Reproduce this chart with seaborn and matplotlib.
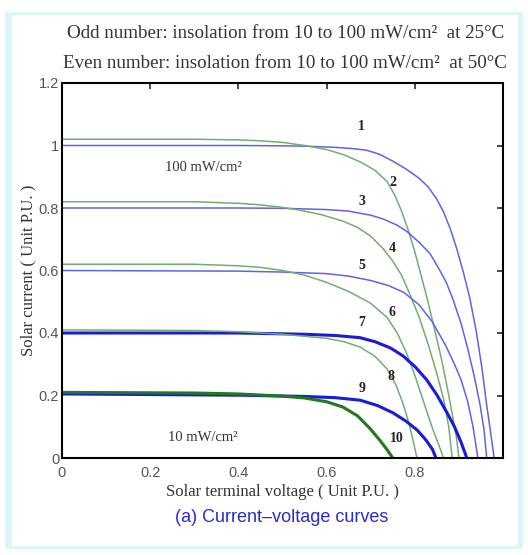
import numpy as np
import pandas as pd
import seaborn as sns
import matplotlib.pyplot as plt
from matplotlib.patches import Rectangle

sns.set_style("white")
plt.rcParams['font.family'] = ['Liberation Serif', 'DejaVu Serif']

# curve 1..10 : odd = 25 C, even = 50 C
v1 = [0.0, 0.4, 0.5, 0.55, 0.62, 0.66, 0.69, 0.72, 0.75, 0.78, 0.81, 0.83, 0.85, 0.865,
      0.88, 0.895, 0.91, 0.925, 0.94, 0.952, 0.962, 0.972, 0.98]
i1 = [1.0, 1.0, 0.999, 0.998, 0.994, 0.99, 0.985, 0.972, 0.95, 0.925, 0.895, 0.868, 0.828, 0.788,
      0.735, 0.67, 0.595, 0.51, 0.40, 0.29, 0.18, 0.08, 0.0]
v2 = [0.0, 0.3, 0.4, 0.45, 0.5, 0.55, 0.6, 0.64, 0.68, 0.71, 0.737, 0.755, 0.77, 0.785,
      0.80, 0.815, 0.83, 0.845, 0.86, 0.873, 0.885, 0.895, 0.90]
i2 = [1.02, 1.02, 1.018, 1.015, 1.01, 1.0, 0.987, 0.97, 0.945, 0.92, 0.885, 0.84, 0.79, 0.73,
      0.66, 0.58, 0.50, 0.41, 0.32, 0.23, 0.14, 0.06, 0.0]
v3 = [0.0, 0.4, 0.5, 0.6, 0.65, 0.7, 0.728, 0.76, 0.782, 0.81, 0.834, 0.855, 0.872, 0.887,
      0.905, 0.92, 0.935, 0.948, 0.957, 0.963]
i3 = [0.80, 0.80, 0.799, 0.795, 0.79, 0.777, 0.765, 0.745, 0.725, 0.69, 0.655, 0.605, 0.56, 0.506,
      0.43, 0.35, 0.26, 0.17, 0.09, 0.0]
v4 = [0.0, 0.3, 0.4, 0.45, 0.5, 0.54, 0.59, 0.637, 0.67, 0.7, 0.728, 0.75, 0.77, 0.79,
      0.81, 0.83, 0.85, 0.865, 0.877, 0.885]
i4 = [0.82, 0.82, 0.815, 0.81, 0.802, 0.793, 0.778, 0.758, 0.738, 0.71, 0.67, 0.63, 0.585, 0.52,
      0.45, 0.365, 0.27, 0.19, 0.10, 0.0]
v5 = [0.0, 0.4, 0.5, 0.6, 0.65, 0.7, 0.74, 0.775, 0.81, 0.84, 0.87, 0.89, 0.905, 0.92,
      0.932, 0.943]
i5 = [0.60, 0.598, 0.595, 0.59, 0.582, 0.568, 0.552, 0.53, 0.49, 0.435, 0.36, 0.30, 0.25, 0.18,
      0.10, 0.0]
v6 = [0.0, 0.3, 0.4, 0.45, 0.5, 0.55, 0.6, 0.65, 0.7, 0.737, 0.76, 0.78, 0.8, 0.82,
      0.84, 0.855, 0.865]
i6 = [0.62, 0.62, 0.615, 0.61, 0.60, 0.585, 0.562, 0.533, 0.495, 0.45, 0.40, 0.34, 0.265, 0.18,
      0.095, 0.04, 0.0]
v7 = [0.0, 0.4, 0.55, 0.62, 0.676, 0.71, 0.745, 0.773, 0.80, 0.827, 0.85, 0.873, 0.89, 0.905,
      0.918]
i7 = [0.40, 0.40, 0.396, 0.392, 0.385, 0.372, 0.352, 0.327, 0.293, 0.25, 0.202, 0.145, 0.10, 0.05,
      0.0]
v8 = [0.0, 0.3, 0.4, 0.5, 0.6, 0.64, 0.676, 0.71, 0.737, 0.757, 0.773, 0.787, 0.797, 0.805]
i8 = [0.41, 0.408, 0.404, 0.396, 0.383, 0.372, 0.355, 0.325, 0.285, 0.235, 0.175, 0.11, 0.05, 0.0]
v9 = [0.0, 0.4, 0.55, 0.62, 0.676, 0.715, 0.75, 0.78, 0.805, 0.825, 0.84, 0.848]
i9 = [0.205, 0.201, 0.197, 0.193, 0.185, 0.168, 0.145, 0.118, 0.09, 0.058, 0.028, 0.0]
v10 = [0.0, 0.3, 0.4, 0.5, 0.55, 0.6, 0.637, 0.67, 0.698, 0.72, 0.738, 0.75]
i10 = [0.21, 0.208, 0.205, 0.198, 0.192, 0.18, 0.163, 0.135, 0.095, 0.058, 0.025, 0.0]

volts = [v1, v2, v3, v4, v5, v6, v7, v8, v9, v10]
amps = [i1, i2, i3, i4, i5, i6, i7, i8, i9, i10]

# curve number labels (x, y)
label_x = [0.68, 0.75, 0.68, 0.748, 0.68, 0.748, 0.68, 0.746, 0.68, 0.76]
label_y = [1.06, 0.88, 0.82, 0.672, 0.617, 0.464, 0.432, 0.262, 0.224, 0.064]

colors = ['#6262e2', '#72ad72', '#6262e2', '#72ad72', '#6262e2', '#72ad72',
          '#1a1ad8', '#72ad72', '#1a1ad8', '#1f7a1f']
widths = [1.1, 1.1, 1.1, 1.1, 1.1, 1.1, 2.2, 1.1, 2.2, 2.2]

rows = []
for n in range(10):
    for v, i in zip(volts[n], amps[n]):
        rows.append({"curve": n + 1, "V": v, "I": i})
df = pd.DataFrame(rows)

fig = plt.figure(figsize=(5.28, 5.55), dpi=100)
# light cyan frame round the picture
fig.patches.append(Rectangle((5 / 528, 6 / 555), 518 / 528, 537 / 555,
                             transform=fig.transFigure, facecolor='#dcf8f6', edgecolor='none', zorder=-10))
fig.patches.append(Rectangle((12 / 528, 9 / 555), 506 / 528, 531 / 555,
                             transform=fig.transFigure, facecolor='white', edgecolor='none', zorder=-9))

ax = fig.add_axes([62 / 528, 97 / 555, 441 / 528, 375 / 555])
for n in range(10):
    sns.lineplot(data=df[df["curve"] == n + 1], x="V", y="I", ax=ax, sort=False,
                 estimator=None, color=colors[n], linewidth=widths[n])
    ax.text(label_x[n], label_y[n], str(n + 1), fontsize=10, fontweight='bold',
            ha='center', va='center', color='#222222')

ax.text(0.234, 0.93, "100 mW/cm²", fontsize=10.5, color='#333333', va='center')
ax.text(0.24, 0.067, "10 mW/cm²", fontsize=10.5, color='#333333', va='center')

ax.set_xlim(0, 1)
ax.set_ylim(0, 1.2)
ax.set_xticks([0, 0.2, 0.4, 0.6, 0.8, 1.0])
ax.set_xticklabels(["0", "0.2", "0.4", "0.6", "0.8", ""])
ax.set_yticks([0, 0.2, 0.4, 0.6, 0.8, 1.0, 1.2])
ax.set_yticklabels(["0", "0.2", "0.4", "0.6", "0.8", "1", "1.2"])
ax.tick_params(direction='in', top=True, right=True, length=4, width=1.2,
               labelsize=10.5, labelcolor='#555555', pad=2)
ax.tick_params(axis='x', pad=6)
for lab in ax.get_xticklabels() + ax.get_yticklabels():
    lab.set_family('Liberation Sans')
for s in ax.spines.values():
    s.set_color('black')
    s.set_linewidth(1.5)

ax.set_xlabel("Solar terminal voltage ( Unit P.U. )", fontsize=12, color='#333333', labelpad=3)
ax.set_ylabel("Solar current ( Unit P.U. )", fontsize=12, color='#333333', labelpad=2)

fig.text(67 / 528, 1 - 33 / 555, "Odd number: insolation from 10 to 100 mW/cm²  at 25°C",
         fontsize=13.7, color='#333333', va='center')
fig.text(63 / 528, 1 - 63 / 555, "Even number: insolation from 10 to 100 mW/cm²  at 50°C",
         fontsize=13.7, color='#333333', va='center')
fig.text(282 / 528, 1 - 518 / 555, "(a) Current\u2013voltage curves", fontsize=13,
         color='#2a2ad0', ha='center', va='center', family='Liberation Sans')

fig.savefig("out.png", dpi=100)
